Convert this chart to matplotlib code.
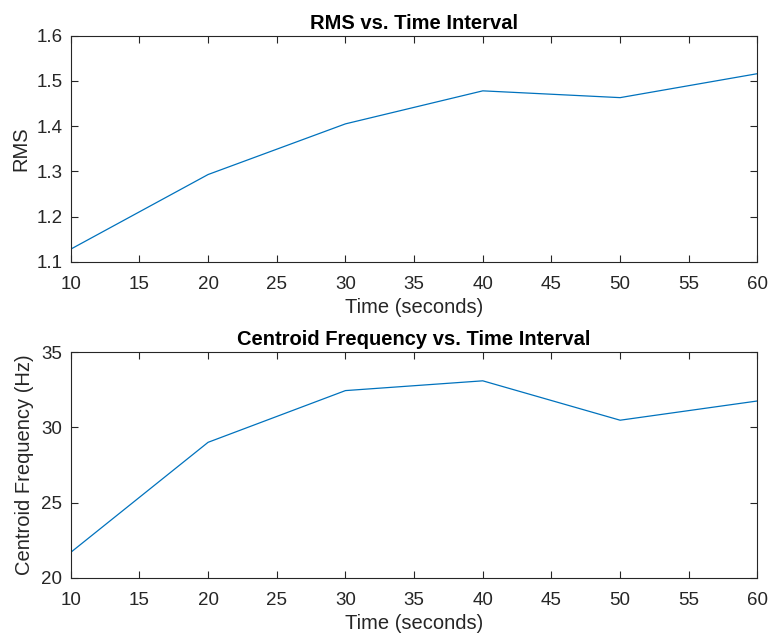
import numpy as np
import matplotlib
matplotlib.use("Agg")
import matplotlib.pyplot as plt

plt.rcParams['font.family'] = ['Liberation Sans', 'DejaVu Sans']

# time intervals (s)
time_s = [10, 20, 30, 40, 50, 60]
# RMS per interval
rms = [1.128, 1.293, 1.405, 1.478, 1.463, 1.516]
# centroid frequency per interval (Hz)
centroid = [21.69, 29.01, 32.45, 33.10, 30.48, 31.76]

line_col = '#0072BD'
ax_col = '#262626'

fig = plt.figure(figsize=(7.69, 6.37), dpi=100)
ax1 = fig.add_axes([0.092, 0.589, 0.893, 0.355])
ax2 = fig.add_axes([0.092, 0.093, 0.893, 0.354])


def style(ax):
    for s in ax.spines.values():
        s.set_color(ax_col)
        s.set_linewidth(0.8)
    ax.tick_params(direction='in', top=True, right=True, length=5,
                   width=0.8, colors=ax_col, labelsize=13.5)
    ax.tick_params(axis='x', pad=10)
    ax.tick_params(axis='y', pad=6)
    ax.set_xlim(10, 60)
    ax.set_xticks(np.arange(10, 61, 5))


ax1.plot(time_s, rms, color=line_col, lw=0.9)
style(ax1)
ax1.set_ylim(1.1, 1.6)
ax1.set_yticks([1.1, 1.2, 1.3, 1.4, 1.5, 1.6])
ax1.set_xlabel('Time (seconds)', fontsize=14.5, color=ax_col, labelpad=4)
ax1.set_ylabel('RMS', fontsize=14.5, color=ax_col, labelpad=4)
ax1.set_title('RMS vs. Time Interval', fontsize=14.5, fontweight='bold', pad=5)

ax2.plot(time_s, centroid, color=line_col, lw=0.9)
style(ax2)
ax2.set_ylim(20, 35)
ax2.set_yticks([20, 25, 30, 35])
ax2.set_xlabel('Time (seconds)', fontsize=14.5, color=ax_col, labelpad=4)
ax2.set_ylabel('Centroid Frequency (Hz)', fontsize=14.5, color=ax_col, labelpad=5)
ax2.set_title('Centroid Frequency vs. Time Interval', fontsize=14.5,
              fontweight='bold', pad=5)

fig.savefig('out.png', dpi=100)
